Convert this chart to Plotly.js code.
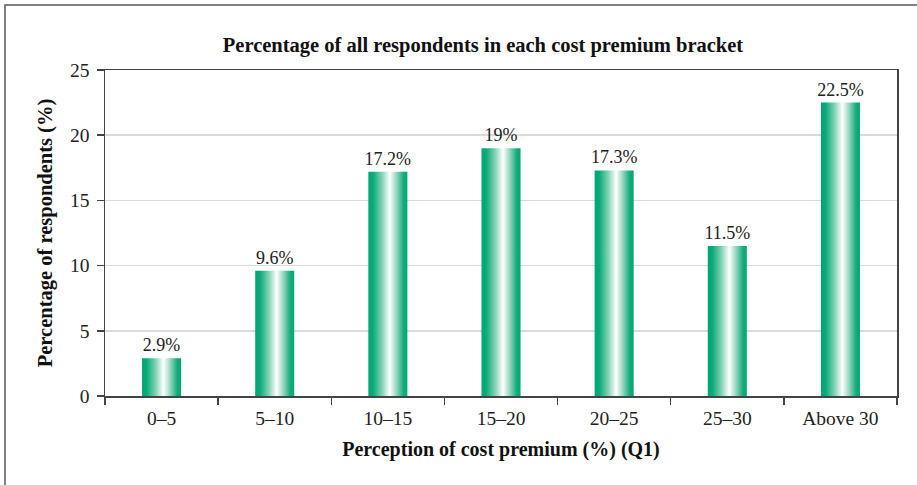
<!DOCTYPE html>
<html>
<head>
<meta charset="utf-8">
<script src="https://cdn.plot.ly/plotly-3.0.1.min.js"></script>
<style>
html,body{margin:0;padding:0;background:#fff;}
#chart{width:917px;height:485px;}
</style>
</head>
<body>
<div id="chart"></div>
<script>
const categories = ["0\u20135", "5\u201310", "10\u201315", "15\u201320", "20\u201325", "25\u201330", "Above 30"];
const values = [2.9, 9.6, 17.2, 19, 17.3, 11.5, 22.5];
const valueLabels = ["2.9%", "9.6%", "17.2%", "19%", "17.3%", "11.5%", "22.5%"];
const yTicks = [0, 5, 10, 15, 20, 25];

const FONT = "Liberation Serif, DejaVu Serif, serif";
const L = 105, R = 20, T = 70, B = 89, W = 917, H = 485;
const pw = W - L - R, ph = H - T - B;
const px = v => (v - L) / pw;
const py = v => (H - B - v) / ph;

const trace = {
  type: "bar",
  x: categories,
  y: values,
  text: valueLabels,
  textposition: "outside",
  constraintext: "none",
  cliponaxis: false,
  textfont: {family: FONT, size: 18, color: "#222"},
  marker: {color: "rgb(0,168,120)", line: {width: 0}},
  hoverinfo: "none"
};

const layout = {
  width: W, height: H,
  margin: {l: L, r: R, t: T, b: B, pad: 0},
  paper_bgcolor: "#fff",
  plot_bgcolor: "#fff",
  showlegend: false,
  bargap: 0.655,
  font: {family: FONT, color: "#222"},
  title: {
    text: "<b>Percentage of all respondents in each cost premium bracket</b>",
    font: {family: FONT, size: 20.5, color: "#111"},
    x: 483 / W, xanchor: "center",
    y: 1 - 45 / H, yanchor: "middle", xref: "container", yref: "container"
  },
  xaxis: {
    type: "category",
    showline: true, linecolor: "#444", linewidth: 1.5, mirror: true,
    ticks: "outside", ticklen: 7, tickcolor: "#444", tickwidth: 1.5,
    tickson: "boundaries",
    ticklabelstandoff: 4,
    showgrid: false,
    tickfont: {family: FONT, size: 19.5, color: "#222"},
    title: {text: "<b>Perception of cost premium (%) (Q1)</b>", font: {family: FONT, size: 20, color: "#111"}, standoff: 14},
    fixedrange: true
  },
  yaxis: {
    range: [0, 25],
    tickvals: yTicks,
    showline: true, linecolor: "#444", linewidth: 1.5, mirror: true,
    ticks: "outside", ticklen: 7, tickcolor: "#444", tickwidth: 1.5,
    ticklabelstandoff: 3,
    showgrid: true, gridcolor: "rgb(218,218,218)", gridwidth: 1.5,
    zeroline: false,
    tickfont: {family: FONT, size: 19.5, color: "#222"},
    title: {text: "<b>Percentage of respondents (%)</b>", font: {family: FONT, size: 20.5, color: "#111"}, standoff: 12},
    fixedrange: true
  },
  shapes: [{
    type: "rect", xref: "paper", yref: "paper",
    x0: px(5), x1: px(940), y0: py(510), y1: py(5),
    line: {color: "#555", width: 1.5}, fillcolor: "rgba(0,0,0,0)", layer: "above"
  }]
};

Plotly.newPlot("chart", [trace], layout, {displayModeBar: false, staticPlot: true}).then(gd => {
  const svg = gd.querySelector("svg.main-svg");
  const ns = "http://www.w3.org/2000/svg";
  const defs = document.createElementNS(ns, "defs");
  const grad = document.createElementNS(ns, "linearGradient");
  grad.setAttribute("id", "barGrad");
  grad.setAttribute("x1", "0"); grad.setAttribute("x2", "1");
  grad.setAttribute("y1", "0"); grad.setAttribute("y2", "0");
  const stops = [
    [0, "rgb(0,166,118)"], [0.12, "rgb(10,170,122)"], [0.35, "rgb(130,210,180)"],
    [0.55, "rgb(255,255,255)"], [0.72, "rgb(150,215,190)"], [0.9, "rgb(20,172,125)"], [1, "rgb(0,166,118)"]
  ];
  stops.forEach(([o, c]) => {
    const s = document.createElementNS(ns, "stop");
    s.setAttribute("offset", o);
    s.setAttribute("stop-color", c);
    grad.appendChild(s);
  });
  defs.appendChild(grad);
  svg.insertBefore(defs, svg.firstChild);
  gd.querySelectorAll(".bars .point path").forEach(p => { p.style.fill = "url(#barGrad)"; });
});
</script>
</body>
</html>
